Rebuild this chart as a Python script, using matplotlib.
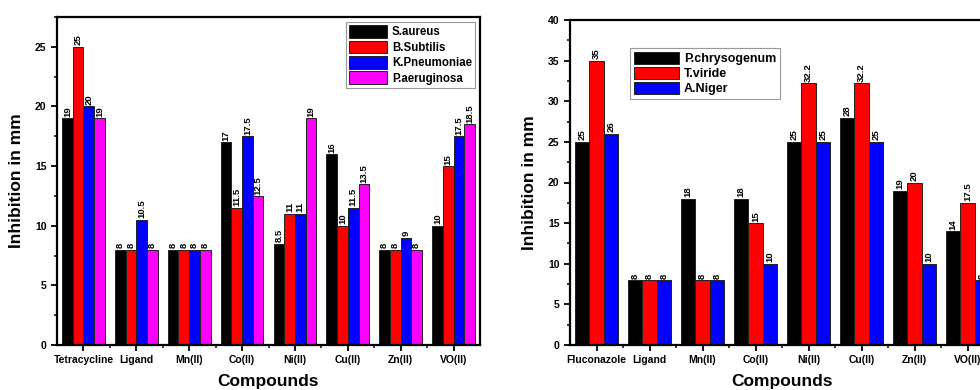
import numpy as np
import matplotlib
matplotlib.use("Agg")
import matplotlib.pyplot as plt

plt.rcParams['font.family'] = ['Liberation Sans', 'DejaVu Sans']
plt.rcParams['font.weight'] = 'bold'

# left panel: antibacterial
bact_compounds = ['Tetracycline', 'Ligand', 'Mn(II)', 'Co(II)', 'Ni(II)', 'Cu(II)', 'Zn(II)', 'VO(II)']
s_aureus = [19, 8, 8, 17, 8.5, 16, 8, 10]
b_subtilis = [25, 8, 8, 11.5, 11, 10, 8, 15]
k_pneumoniae = [20, 10.5, 8, 17.5, 11, 11.5, 9, 17.5]
p_aeruginosa = [19, 8, 8, 12.5, 19, 13.5, 8, 18.5]
bact_names = ['S.aureus', 'B.Subtilis', 'K.Pneumoniae', 'P.aeruginosa']

# right panel: antifungal
fung_compounds = ['Fluconazole', 'Ligand', 'Mn(II)', 'Co(II)', 'Ni(II)', 'Cu(II)', 'Zn(II)', 'VO(II)']
p_chrysogenum = [25, 8, 18, 18, 25, 28, 19, 14]
t_viride = [35, 8, 8, 15, 32.2, 32.2, 20, 17.5]
a_niger = [26, 8, 8, 10, 25, 25, 10, 8]
fung_names = ['P.chrysogenum', 'T.viride', 'A.Niger']

colors = ['black', '#ff0000', '#0000ff', '#ff00ff']

fig = plt.figure(figsize=(9.8, 3.9), dpi=100)
ax1 = fig.add_axes([57/980, 45/390, 423/980, 328/390])
ax2 = fig.add_axes([570/980, 45/390, 424/980, 325/390])


def grouped(ax, cats, series, names, ymax, ystep, legfs, handlelen, handleh, spacing):
    x = np.arange(len(cats))
    n = len(series)
    w = 0.81 / n
    for i, (vals, name) in enumerate(zip(series, names)):
        bars = ax.bar(x + (i - (n - 1) / 2) * w, vals, w, color=colors[i],
                      edgecolor='#222222', linewidth=0.7, label=name)
        ax.bar_label(bars, labels=['%g' % v for v in vals], rotation=90,
                     padding=1, fontsize=6.8, fontweight='bold')
    ax.set_xlim(-0.5, 7.5)
    ax.set_ylim(0, ymax)
    ax.set_xticks(x)
    ax.set_xticklabels(cats, fontsize=7.5, fontweight='bold')
    ax.set_xticks(x[:-1] + 0.5, minor=True)
    ax.set_yticks(np.arange(0, ymax + 0.1, ystep))
    ax.set_yticks(np.arange(0, ymax + 0.1, ystep / 2), minor=True)
    ax.tick_params(axis='both', which='major', direction='out', length=4, width=1.3, labelsize=7.5)
    ax.tick_params(axis='both', which='minor', direction='out', length=2.5, width=1.1)
    for s in ax.spines.values():
        s.set_linewidth(1.6)
    ax.set_xlabel('Compounds', fontsize=12.5, fontweight='bold', labelpad=6)
    ax.set_ylabel('Inhibition in mm', fontsize=12.5, fontweight='bold', labelpad=8)
    leg = ax.legend(prop={'weight': 'bold', 'size': legfs}, fancybox=False,
                    edgecolor='gray', handlelength=handlelen, handleheight=handleh,
                    labelspacing=spacing, borderpad=0.3, handletextpad=0.4,
                    borderaxespad=0.4)
    leg.get_frame().set_linewidth(0.8)
    return leg


leg1 = grouped(ax1, bact_compounds, [s_aureus, b_subtilis, k_pneumoniae, p_aeruginosa],
               bact_names, 27.5, 5, 8.3, 3.3, 1.3, 0.2)
leg1.set_loc('upper right')
leg2 = grouped(ax2, fung_compounds, [p_chrysogenum, t_viride, a_niger],
               fung_names, 40, 5, 9, 3.6, 1.1, 0.15)
leg2.set_bbox_to_anchor((0.13, 0.93), transform=ax2.transAxes)
leg2.set_loc('upper left')

fig.savefig('out.png', dpi=100)
